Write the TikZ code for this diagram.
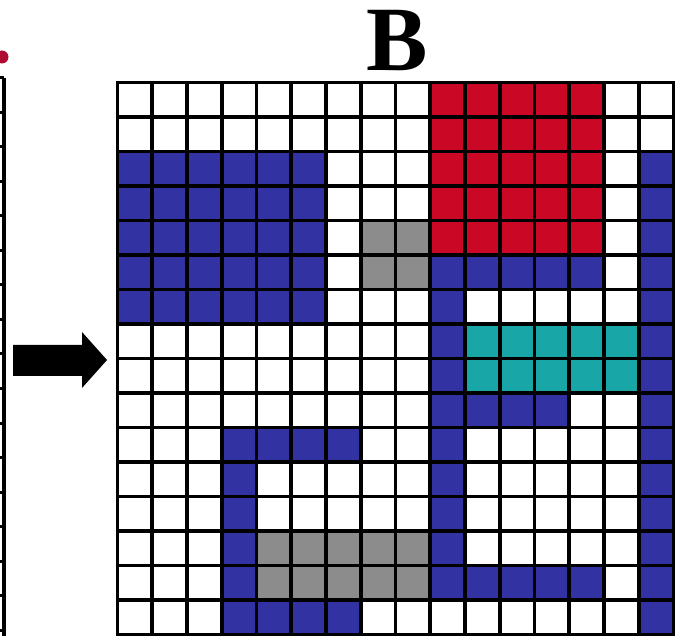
\documentclass[tikz,border=0pt]{standalone}
\usepackage{fontspec}
\newfontfamily\labelfont{Liberation Serif}
\usetikzlibrary{positioning}

\definecolor{cellred}{RGB}{202,8,38}
\definecolor{cellblue}{RGB}{50,50,162}
\definecolor{cellgray}{RGB}{140,140,140}
\definecolor{cellteal}{RGB}{24,166,166}
\definecolor{dotred}{RGB}{175,10,50}

\tikzset{
  gridline/.style={line width=3.8pt, black, line cap=rect},
  bigarrow/.style={fill=black},
}

\begin{document}
\begin{tikzpicture}[x=1pt, y=-1pt]
    \useasboundingbox (0,0) rectangle (675,636);

    % Edge of the neighbouring grid
    \fill[dotred] (2,57) circle (6.5);
    \draw[line width=4pt] (4,78) -- (4,636);
    \foreach \k in {0,...,16}
        \draw[line width=3pt] (0,78+34.5*\k) -- (4,78+34.5*\k);

    % Arrow
    \fill[bigarrow] (13,345) -- (82,345) -- (82,332) -- (107,360)
        -- (82,388) -- (82,376) -- (13,376) -- cycle;

    % Title
    \node[inner sep=0pt, font=\labelfont\bfseries\fontsize{92}{92}\selectfont]
        (title) at (397.5,41) {B};

    % Cells
    \begin{scope}[xshift=117.5pt, yshift=-82.5pt, x=34.75pt, y=-34.5pt]
        % Blue blocks
        \fill[cellblue] (0,2) rectangle (6,7);
        \fill[cellblue] (15,2) rectangle (16,16);
        \fill[cellblue] (9,5) rectangle (14,6);
        \fill[cellblue] (9,5) rectangle (10,15);
        \fill[cellblue] (10,9) rectangle (13,10);
        \fill[cellblue] (10,14) rectangle (14,15);
        \fill[cellblue] (3,10) rectangle (7,11);
        \fill[cellblue] (3,10) rectangle (4,16);
        \fill[cellblue] (3,15) rectangle (7,16);

        % Red, teal and gray blocks
        \fill[cellred] (9,0) rectangle (14,5);
        \fill[cellteal] (10,7) rectangle (15,9);
        \fill[cellgray] (7,4) rectangle (9,6);
        \fill[cellgray] (4,13) rectangle (9,15);

        % Grid
        \foreach \i in {0,...,16} {
            \draw[gridline] (\i,0) -- (\i,16);
            \draw[gridline] (0,\i) -- (16,\i);
        }
    \end{scope}
\end{tikzpicture}
\end{document}
